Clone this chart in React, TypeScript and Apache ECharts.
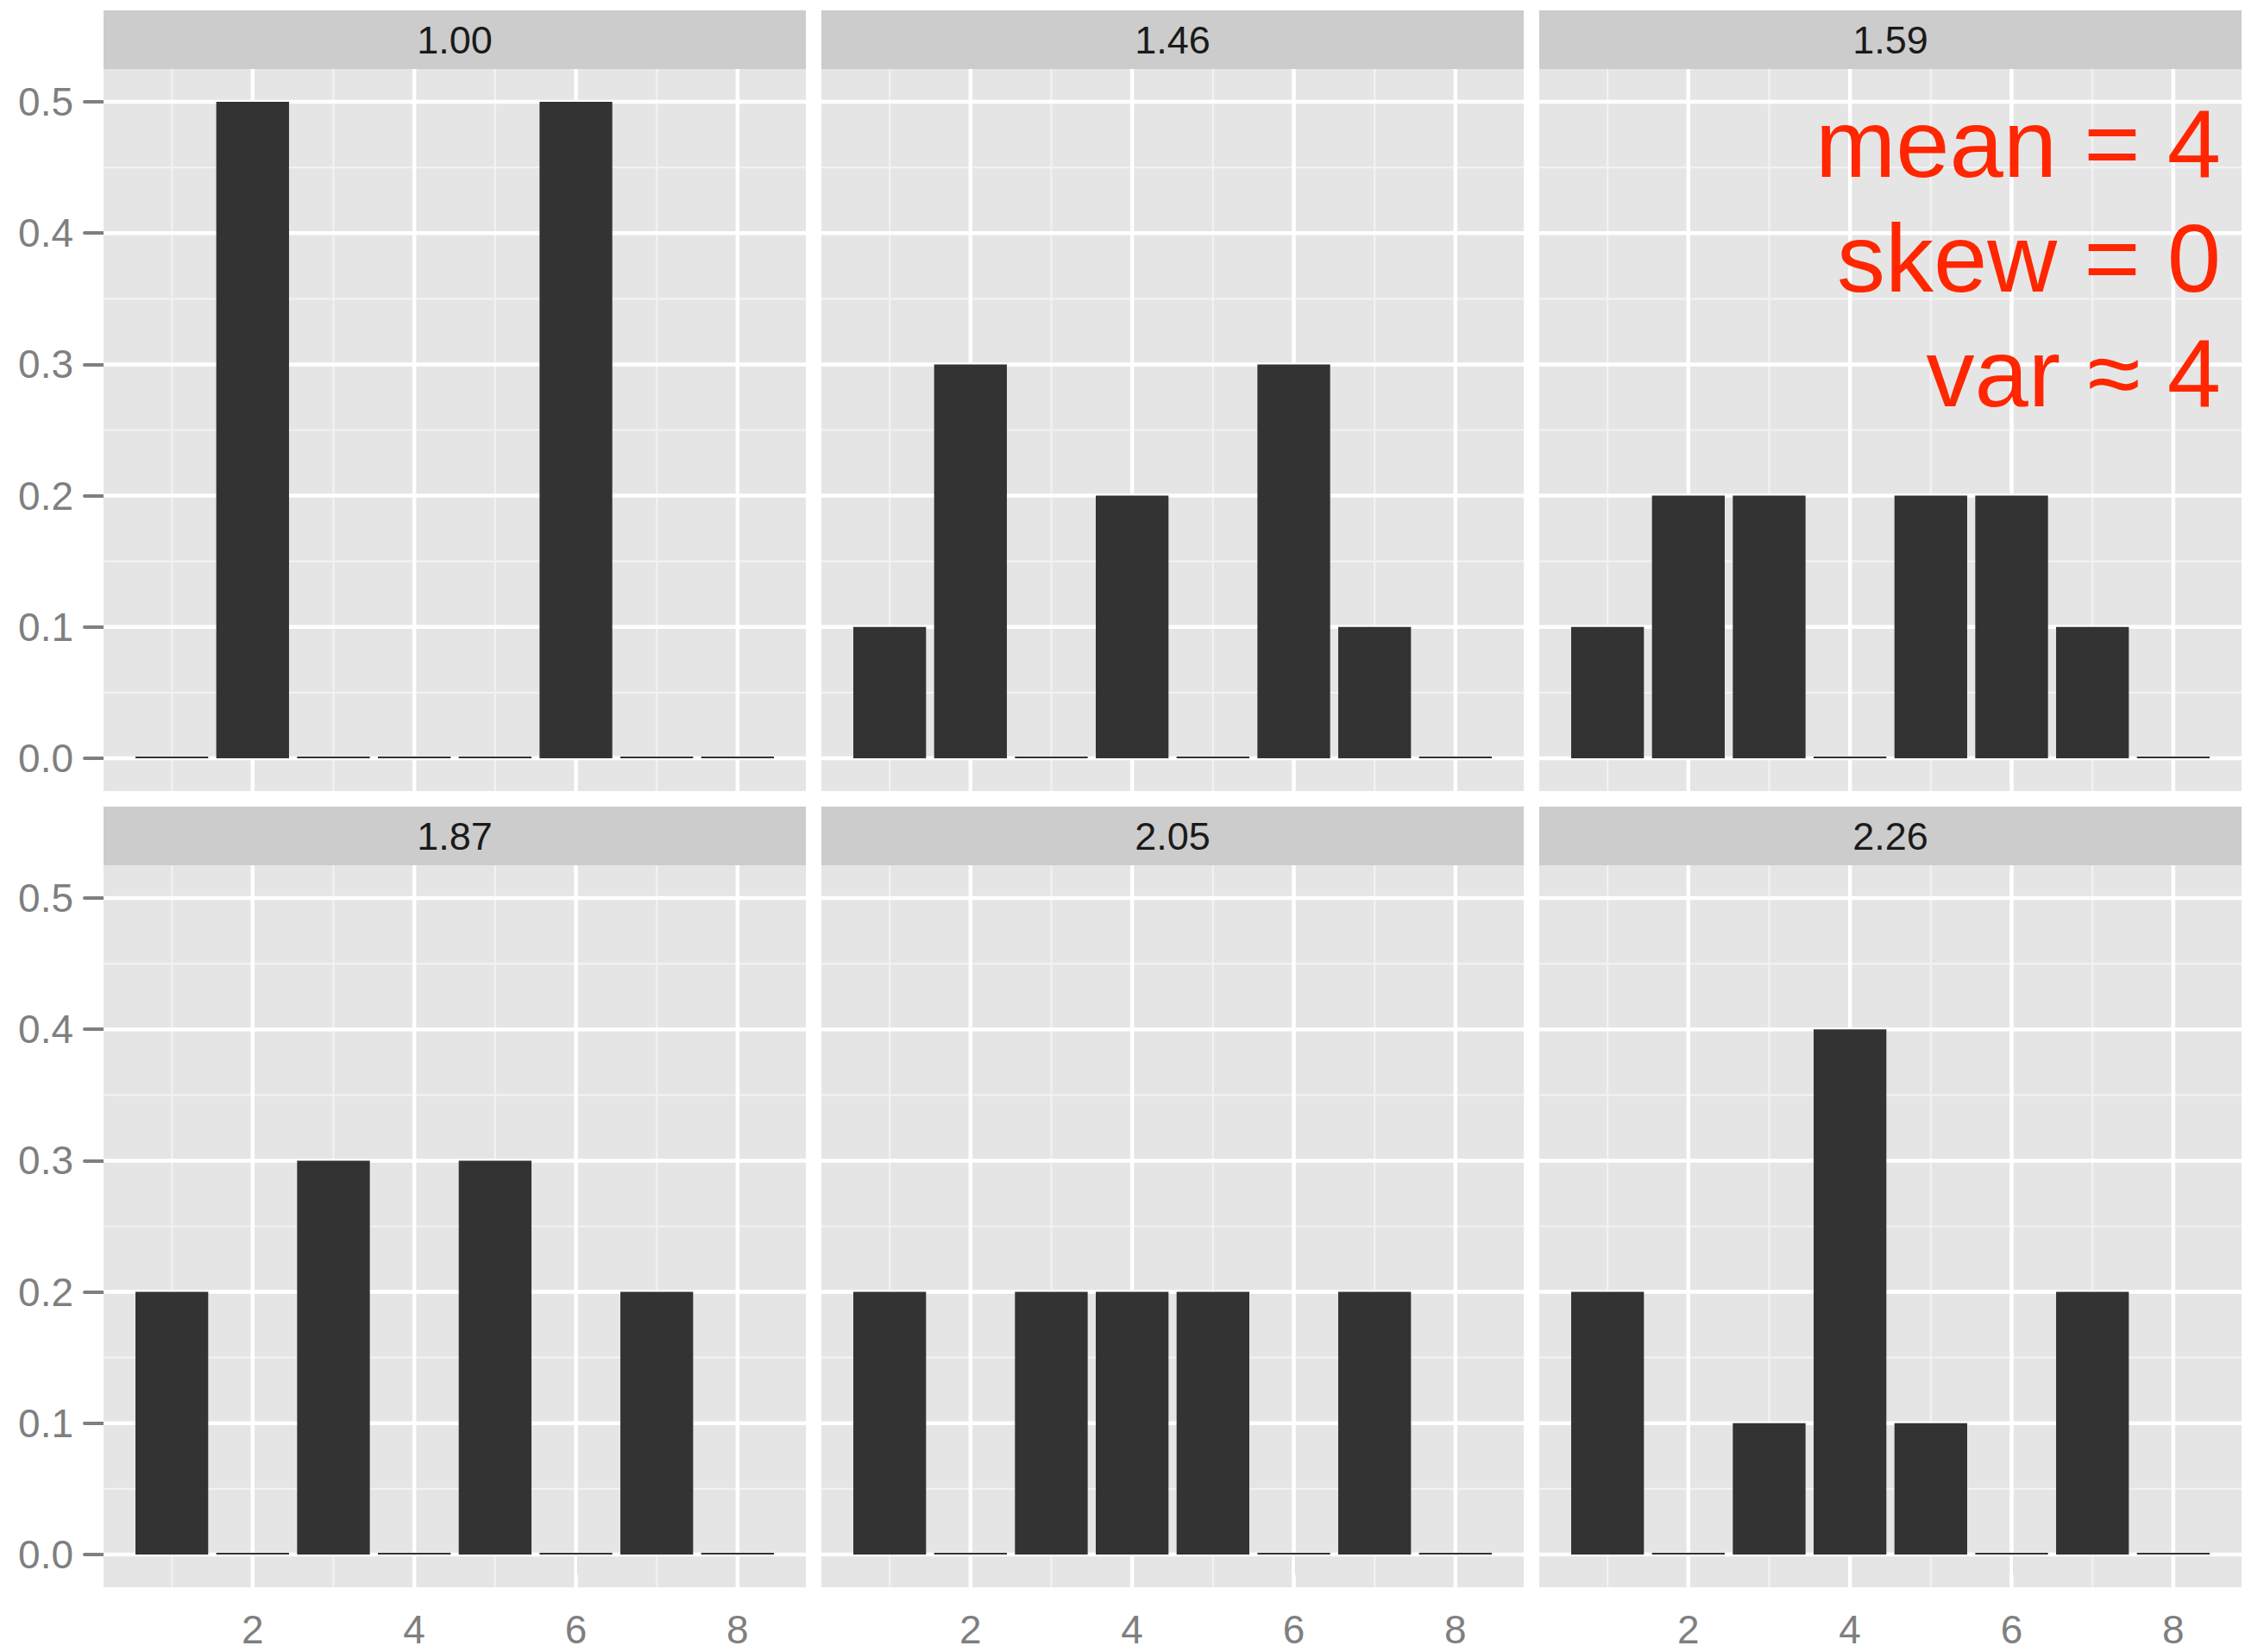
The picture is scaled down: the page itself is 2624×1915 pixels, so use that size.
import React, { useEffect, useRef } from "react";
import * as echarts from "echarts";

// Support points shared by every panel
const xPositions = [1, 2, 3, 4, 5, 6, 7, 8];

// Facet labels (kurtosis of each distribution)
const panelLabels = ["1.00", "1.46", "1.59", "1.87", "2.05", "2.26"];

// Probability mass at each support point, one array per facet
const probs100 = [0, 0.5, 0, 0, 0, 0.5, 0, 0];
const probs146 = [0.1, 0.3, 0, 0.2, 0, 0.3, 0.1, 0];
const probs159 = [0.1, 0.2, 0.2, 0, 0.2, 0.2, 0.1, 0];
const probs187 = [0.2, 0, 0.3, 0, 0.3, 0, 0.2, 0];
const probs205 = [0.2, 0, 0.2, 0.2, 0.2, 0, 0.2, 0];
const probs226 = [0.2, 0, 0.1, 0.4, 0.1, 0, 0.2, 0];
const panelProbs = [probs100, probs146, probs159, probs187, probs205, probs226];

// Axis breaks
const xTicks = [2, 4, 6, 8];
const xMinorBreaks = [1, 3, 5, 7];
const yTicks = [0, 0.1, 0.2, 0.3, 0.4, 0.5];
const yMinorBreaks = [0.05, 0.15, 0.25, 0.35, 0.45];

// Scale limits (data range plus the usual 5% expansion)
const X_MIN = 0.155;
const X_MAX = 8.845;
const Y_MIN = -0.025;
const Y_MAX = 0.525;

const annotationLines = ["mean = 4", "skew = 0", "var ≈ 4"];

// Layout
const W = 2624;
const H = 1915;
const COL_LEFT = [120, 952, 1784];
const PANEL_W = 814;
const STRIP_TOP = [12, 935];
const STRIP_H = 68;
const PANEL_H = 837;

const FONT = "'Liberation Sans', Arial, Helvetica, sans-serif";
const TICK_GREY = "#7f7f7f";

function gridLineData() {
  const rows: number[][] = [];
  xMinorBreaks.forEach((v) => rows.push([0, v, 0]));
  yMinorBreaks.forEach((v) => rows.push([1, v, 0]));
  xTicks.forEach((v) => rows.push([0, v, 1]));
  yTicks.forEach((v) => rows.push([1, v, 1]));
  return rows;
}

export default function App() {
  const ref = useRef<HTMLDivElement>(null);

  useEffect(() => {
    if (!ref.current) return;
    const chart = echarts.init(ref.current, undefined, { renderer: "svg" });

    const grids: any[] = [];
    const xAxes: any[] = [];
    const yAxes: any[] = [];
    const series: any[] = [];
    const graphics: any[] = [];
    const lines = gridLineData();

    panelProbs.forEach((probs, i) => {
      const col = i % 3;
      const row = Math.floor(i / 3);
      const left = COL_LEFT[col];
      const top = STRIP_TOP[row] + STRIP_H;

      grids.push({
        left,
        top,
        width: PANEL_W,
        height: PANEL_H,
        show: true,
        backgroundColor: "#e5e5e5",
        borderWidth: 0,
        containLabel: false,
        outerBoundsMode: "none",
      });

      xAxes.push({
        type: "value",
        gridIndex: i,
        min: X_MIN,
        max: X_MAX,
        axisLine: { show: false },
        splitLine: { show: false },
        axisTick: {
          show: row === 1,
          customValues: xTicks,
          length: 22,
          lineStyle: { color: TICK_GREY, width: 4, cap: "round" },
        },
        axisLabel: {
          show: row === 1,
          customValues: xTicks,
          formatter: (v: number) => String(v),
          color: TICK_GREY,
          fontSize: 46,
          fontFamily: FONT,
          margin: 26,
        },
      });

      yAxes.push({
        type: "value",
        gridIndex: i,
        min: Y_MIN,
        max: Y_MAX,
        axisLine: { show: false },
        splitLine: { show: false },
        axisTick: {
          show: col === 0,
          customValues: yTicks,
          length: 22,
          lineStyle: { color: TICK_GREY, width: 4, cap: "round" },
        },
        axisLabel: {
          show: col === 0,
          customValues: yTicks,
          formatter: (v: number) => v.toFixed(1),
          color: TICK_GREY,
          fontSize: 46,
          fontFamily: FONT,
          margin: 35,
        },
      });

      // Panel grid lines (minor first, major on top)
      series.push({
        type: "custom",
        xAxisIndex: i,
        yAxisIndex: i,
        silent: true,
        z: 1,
        data: lines,
        renderItem: (params: any, api: any) => {
          const kind = api.value(0);
          const v = api.value(1);
          const major = api.value(2) === 1;
          const cs = params.coordSys;
          let shape;
          if (kind === 0) {
            const px = api.coord([v, 0])[0];
            shape = { x1: px, y1: cs.y, x2: px, y2: cs.y + cs.height };
          } else {
            const py = api.coord([X_MIN, v])[1];
            shape = { x1: cs.x, y1: py, x2: cs.x + cs.width, y2: py };
          }
          return {
            type: "line",
            shape,
            style: {
              stroke: major ? "#ffffff" : "#f2f2f2",
              lineWidth: major ? 4.5 : 2.2,
            },
          };
        },
      });

      series.push({
        type: "bar",
        xAxisIndex: i,
        yAxisIndex: i,
        silent: true,
        z: 3,
        barWidth: "90%",
        barMinHeight: 2,
        itemStyle: { color: "#333333" },
        data: xPositions.map((x, j) => [x, probs[j]]),
      });

      // Facet strip
      graphics.push({
        type: "rect",
        shape: { x: left, y: STRIP_TOP[row], width: PANEL_W, height: STRIP_H },
        style: { fill: "#cccccc" },
        silent: true,
      });
      graphics.push({
        type: "text",
        x: left + PANEL_W / 2,
        y: STRIP_TOP[row] + STRIP_H / 2,
        style: {
          text: panelLabels[i],
          fill: "#1a1a1a",
          font: `45px ${FONT}`,
          align: "center",
          verticalAlign: "middle",
        },
        silent: true,
      });
    });

    // Summary annotation in the top-right facet
    graphics.push({
      type: "text",
      x: 2574,
      y: 100,
      z: 10,
      style: {
        text: annotationLines.join("\n"),
        fill: "#ff2600",
        font: `112px ${FONT}`,
        lineHeight: 133,
        align: "right",
        verticalAlign: "top",
      },
      silent: true,
    });

    chart.setOption({
      animation: false,
      backgroundColor: "#ffffff",
      grid: grids,
      xAxis: xAxes,
      yAxis: yAxes,
      series,
      graphic: { elements: graphics },
    });

    return () => chart.dispose();
  }, []);

  return (
    <div
      ref={ref}
      style={{ position: "fixed", left: 0, top: 0, width: W, height: H }}
    />
  );
}
